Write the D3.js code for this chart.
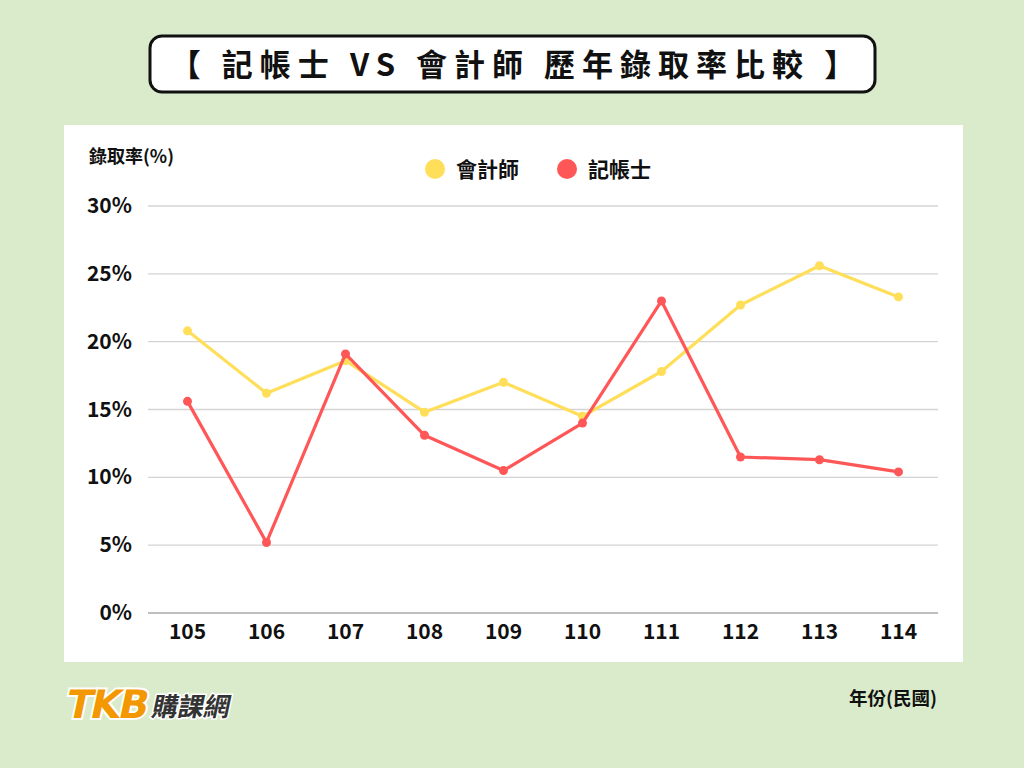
<!DOCTYPE html>
<html>
<head>
<meta charset="utf-8">
<script src="https://cdn.jsdelivr.net/npm/d3@7"></script>
<style>
  body { margin: 0; background: #d9ebcb; }
  svg { display: block; font-family: "Noto Sans CJK TC", "Noto Sans", sans-serif; }
</style>
</head>
<body>
<svg id="chart" width="1024" height="768"></svg>
<script>
var years = ["105", "106", "107", "108", "109", "110", "111", "112", "113", "114"];
var cpaRates = [20.8, 16.2, 18.6, 14.8, 17.0, 14.5, 17.8, 22.7, 25.6, 23.3];   // 會計師
var bookkeeperRates = [15.6, 5.2, 19.1, 13.1, 10.5, 14.0, 23.0, 11.5, 11.3, 10.4]; // 記帳士
var yTicks = [0, 5, 10, 15, 20, 25, 30];
var seriesNames = ["會計師", "記帳士"];
var seriesColors = ["#ffde59", "#ff5757"];

var svg = d3.select("#chart");

// background
svg.append("rect").attr("width", 1024).attr("height", 768).attr("fill", "#d9ebcb");

// title box
svg.append("rect")
    .attr("x", 150).attr("y", 36)
    .attr("width", 725).attr("height", 56)
    .attr("rx", 12)
    .attr("fill", "#fff")
    .attr("stroke", "#111")
    .attr("stroke-width", 3);
svg.append("text")
    .attr("x", 516).attr("y", 76)
    .attr("text-anchor", "middle")
    .style("font-size", "31px")
    .style("font-weight", 700)
    .style("letter-spacing", "7px")
    .attr("fill", "#111")
    .text("【 記帳士 VS 會計師 歷年錄取率比較 】");

// white panel
svg.append("rect")
    .attr("x", 64).attr("y", 125)
    .attr("width", 899).attr("height", 537)
    .attr("fill", "#fff");

var x = d3.scalePoint().domain(years).range([148, 938]).padding(0.5);
var y = d3.scaleLinear().domain([0, 30]).range([613, 206]);

var g = svg.append("g");

// gridlines
g.selectAll(".grid")
    .data(yTicks.filter(function (d) { return d > 0; }))
    .enter()
    .append("line")
    .attr("x1", 148).attr("x2", 938)
    .attr("y1", function (d) { return y(d); })
    .attr("y2", function (d) { return y(d); })
    .attr("stroke", "#d4d4d4")
    .attr("stroke-width", 1.3);

// baseline
g.append("line")
    .attr("x1", 148).attr("x2", 938)
    .attr("y1", y(0)).attr("y2", y(0))
    .attr("stroke", "#a8a8a8")
    .attr("stroke-width", 1.5);

// y tick labels
g.selectAll(".ytick")
    .data(yTicks)
    .enter()
    .append("text")
    .attr("x", 132)
    .attr("y", function (d) { return y(d) + 7; })
    .attr("text-anchor", "end")
    .style("font-size", "21px")
    .style("font-weight", 700)
    .attr("fill", "#111")
    .text(function (d) { return d + "%"; });

// x tick labels
g.selectAll(".xtick")
    .data(years)
    .enter()
    .append("text")
    .attr("x", function (d) { return x(d); })
    .attr("y", 639)
    .attr("text-anchor", "middle")
    .style("font-size", "21px")
    .style("font-weight", 700)
    .attr("fill", "#111")
    .text(function (d) { return d; });

// axis titles
svg.append("text")
    .attr("x", 89).attr("y", 163)
    .style("font-size", "18px")
    .style("font-weight", 700)
    .attr("fill", "#111")
    .text("錄取率(%)");
svg.append("text")
    .attr("x", 937).attr("y", 705)
    .attr("text-anchor", "end")
    .style("font-size", "18.5px")
    .style("font-weight", 700)
    .attr("fill", "#111")
    .text("年份(民國)");

// legend
var legendX = [435, 567];
seriesNames.forEach(function (name, i) {
    svg.append("circle")
        .attr("cx", legendX[i]).attr("cy", 169).attr("r", 10)
        .attr("fill", seriesColors[i]);
    svg.append("text")
        .attr("x", legendX[i] + 21).attr("y", 177)
        .style("font-size", "21px")
        .style("font-weight", 700)
        .attr("fill", "#111")
        .text(name);
});

// lines
var line = d3.line()
    .x(function (d, i) { return x(years[i]); })
    .y(function (d) { return y(d); });

[cpaRates, bookkeeperRates].forEach(function (series, i) {
    g.append("path")
        .datum(series)
        .attr("d", line)
        .attr("fill", "none")
        .attr("stroke", seriesColors[i])
        .attr("stroke-width", 3.2)
        .attr("stroke-linejoin", "round");
    g.selectAll(".dot" + i)
        .data(series)
        .enter()
        .append("circle")
        .attr("cx", function (d, j) { return x(years[j]); })
        .attr("cy", function (d) { return y(d); })
        .attr("r", 4.5)
        .attr("fill", seriesColors[i]);
});

// logo
var logo = svg.append("g").attr("transform", "translate(64,718) skewX(-12)");
logo.append("text")
    .attr("x", 0).attr("y", 0)
    .style("font-family", "'DejaVu Sans', sans-serif")
    .style("font-size", "39px")
    .style("font-weight", 700)
    .style("letter-spacing", "-2px")
    .attr("fill", "#f39800")
    .attr("stroke", "#fff")
    .attr("stroke-width", 4)
    .attr("paint-order", "stroke")
    .text("TKB");
logo.append("text")
    .attr("x", 86).attr("y", -2)
    .style("font-size", "26px")
    .style("font-weight", 700)
    .attr("fill", "#333")
    .attr("stroke", "#fff")
    .attr("stroke-width", 3)
    .attr("paint-order", "stroke")
    .text("購課網");
</script>
</body>
</html>
